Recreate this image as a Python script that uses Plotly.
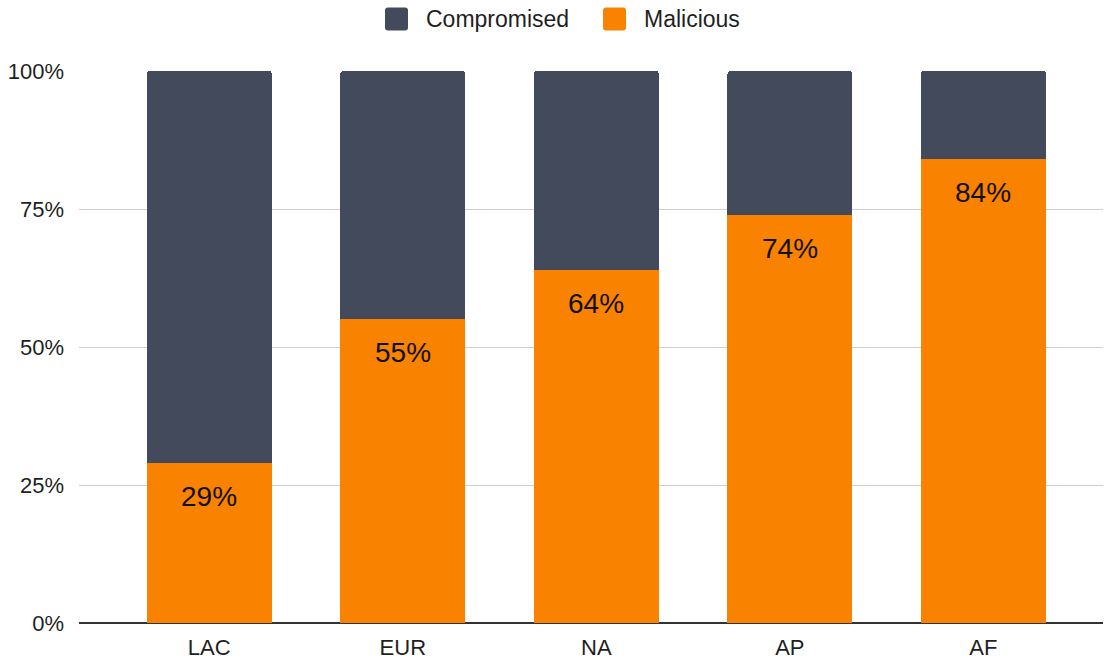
import plotly.graph_objects as go

regions = ["LAC", "EUR", "NA", "AP", "AF"]
malicious = [29, 55, 64, 74, 84]
compromised = [100 - v for v in malicious]
malicious_labels = [f"{v}%" for v in malicious]
y_ticks = [0, 25, 50, 75, 100]
y_tick_labels = ["0%", "25%", "50%", "75%", "100%"]
legend_names = ["Compromised", "Malicious"]

DARK = "#424A5C"
ORANGE = "#F98200"
FONT = "Liberation Sans, Arial, sans-serif"
TEXT = "#1F1F1F"

W, H = 1105, 661
ML, MR, MT, MB = 79, 2, 71, 38
PW, PH = W - ML - MR, H - MT - MB


def px_x(px):
    return (px - ML) / PW


def px_y(py):
    return (H - MB - py) / PH


fig = go.Figure()
fig.add_trace(go.Bar(
    x=regions, y=malicious, name="Malicious", marker_color=ORANGE,
    marker_line_width=0, width=0.645, hoverinfo="skip", showlegend=False,
))
fig.add_trace(go.Bar(
    x=regions, y=compromised, name="Compromised", marker_color=DARK,
    marker_line_width=0, width=0.645, hoverinfo="skip", showlegend=False,
))

for r, v, t in zip(regions, malicious, malicious_labels):
    fig.add_annotation(
        x=r, y=v, text=t, showarrow=False, yanchor="top", yshift=-16,
        font=dict(family=FONT, size=28, color="#111111"),
    )


def rounded_square(s, r):
    # path in pixel units relative to anchor (square of side s, corner radius r)
    return (f"M {r},0 L {s-r},0 Q {s},0 {s},{r} L {s},{s-r} Q {s},{s} {s-r},{s} "
            f"L {r},{s} Q 0,{s} 0,{s-r} L 0,{r} Q 0,0 {r},0 Z")


# manual legend (large rounded swatches like the reference)
legend_items = [(legend_names[0], DARK, 385, 424), (legend_names[1], ORANGE, 603, 642)]
legend_cy = 19
sw = 23
for name, color, sx, tx in legend_items:
    fig.add_shape(
        type="path", xref="paper", yref="paper",
        xsizemode="pixel", ysizemode="pixel",
        xanchor=px_x(sx), yanchor=px_y(legend_cy + sw / 2),
        path=rounded_square(sw, 3), fillcolor=color, line_width=0,
    )
    fig.add_annotation(
        xref="paper", yref="paper", x=px_x(tx), y=px_y(legend_cy),
        xanchor="left", yanchor="middle", text=name, showarrow=False,
        font=dict(family=FONT, size=23, color=TEXT),
    )

fig.update_layout(
    width=W, height=H,
    barmode="stack", barcornerradius=3,
    plot_bgcolor="white", paper_bgcolor="white",
    margin=dict(l=ML, r=MR, t=MT, b=MB, autoexpand=False),
    font=dict(family=FONT, size=22, color=TEXT),
    showlegend=False,
    xaxis=dict(
        range=[-0.673, 4.618], showgrid=False, zeroline=False,
        showline=False, ticks="", tickfont=dict(size=22),
        ticklabelstandoff=9, automargin=False,
    ),
    yaxis=dict(
        range=[0, 100], tickvals=y_ticks, ticktext=y_tick_labels,
        showgrid=True, gridcolor="#CFCFCF", gridwidth=1,
        zeroline=True, zerolinecolor="#333333", zerolinewidth=2,
        showline=False, ticks="", ticklabelstandoff=14,
        tickfont=dict(size=22), automargin=False,
    ),
)

fig.write_html("out.html")
